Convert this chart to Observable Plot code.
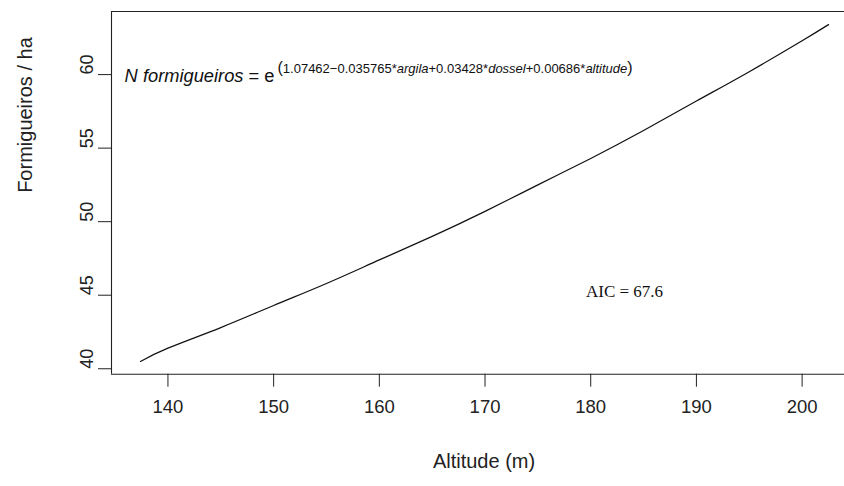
<!DOCTYPE html>
<html>
<head>
<meta charset="utf-8">
<script src="https://cdn.jsdelivr.net/npm/d3@7"></script>
<script src="https://cdn.jsdelivr.net/npm/@observablehq/plot@0.6"></script>
<style>
  html, body { margin: 0; padding: 0; background: #fff; }
  svg { display: block; }
</style>
</head>
<body>
<div id="chart"></div>
<script>
// Data
const altitude = [137.4, 140, 145, 150, 155, 160, 165, 170, 175, 180, 185, 190, 195, 200, 202.5];
const formigueiros = [40.5, 41.4, 42.8, 44.3, 45.8, 47.4, 49.0, 50.7, 52.5, 54.3, 56.2, 58.2, 60.2, 62.3, 63.4];
const xTicks = [140, 150, 160, 170, 180, 190, 200];
const yTicks = [40, 45, 50, 55, 60];
const xLabel = "Altitude (m)";
const yLabel = "Formigueiros / ha";
const aicText = "AIC = 67.6";
const aicPos = {x: 183.2, y: 45.27};
const formulaPos = {x: 135.9, y: 59.9};

const data = altitude.map((a, i) => ({altitude: a, n: formigueiros[i]}));
const xDomain = [134.66, 204.01];
const yDomain = [39.63, 64.29];

const svg = Plot.plot({
  width: 844,
  height: 486,
  marginLeft: 111,
  marginRight: 0,
  marginTop: 11,
  marginBottom: 112.3,
  style: {fontFamily: "'Liberation Sans', Arial, sans-serif", background: "#fff", color: "#222"},
  x: {domain: xDomain, axis: null},
  y: {domain: yDomain, axis: null},
  marks: [
    // box (top, bottom, left)
    Plot.ruleY([yDomain[0], yDomain[1]], {stroke: "#222", strokeWidth: 1.1}),
    Plot.ruleX([xDomain[0]], {stroke: "#222", strokeWidth: 1.1}),
    // ticks
    Plot.axisX({ticks: xTicks, tickSize: 13, tickFormat: () => "", label: null, stroke: "#222"}),
    Plot.axisY({ticks: yTicks, tickSize: 13, tickFormat: () => "", label: null, stroke: "#222"}),
    // tick labels
    Plot.text(xTicks, {x: d => d, frameAnchor: "bottom", dy: 38.5, text: d => String(d), fontSize: 18.5, fill: "#222"}),
    Plot.text(yTicks, {y: d => d, frameAnchor: "left", dx: -24, rotate: -90, text: d => String(d), fontSize: 18, fill: "#222"}),
    // axis titles
    Plot.text([xLabel], {frameAnchor: "bottom", dy: 93.3, dx: 6, text: d => d, fontSize: 20, fill: "#222"}),
    Plot.text([yLabel], {frameAnchor: "left", dx: -86, rotate: -90, text: d => d, fontSize: 20, fill: "#222"}),
    // curve
    Plot.line(data, {x: "altitude", y: "n", stroke: "#111", strokeWidth: 1.2, curve: "natural"}),
    // annotations
    Plot.text([aicText], {x: () => aicPos.x, y: () => aicPos.y, text: d => d, fontSize: 17, fontFamily: "'Liberation Serif', 'Times New Roman', serif", fill: "#111"}),
    Plot.text(["N formigueiros = e"], {x: () => formulaPos.x, y: () => formulaPos.y, text: d => d, textAnchor: "start", fontSize: 18.3, fill: "#111"})
  ]
});

// Rich text for the formula
d3.select(svg).selectAll("text").filter(function() { return this.textContent === "N formigueiros = e"; })
  .each(function() {
    const t = d3.select(this);
    t.text(null);
    t.append("tspan").attr("font-style", "italic").text("N formigueiros");
    t.append("tspan").text(" = e");
    const parts = [
      ["(", "normal", 16, -9],
      ["1.07462\u22120.035765*", "normal", 13, 0],
      ["argila", "italic", 13, 0],
      ["+0.03428*", "normal", 13, 0],
      ["dossel", "italic", 13, 0],
      ["+0.00686*", "normal", 13, 0],
      ["altitude", "italic", 13, 0],
      [")", "normal", 16, 0]
    ];
    parts.forEach(([s, st, fs, dy], i) => {
      const sp = t.append("tspan").attr("font-style", st).attr("font-size", fs).text(s);
      if (dy) sp.attr("dy", dy);
      if (i === 0) sp.attr("dx", 3);
    });
  });

document.getElementById("chart").appendChild(svg);
</script>
</body>
</html>
